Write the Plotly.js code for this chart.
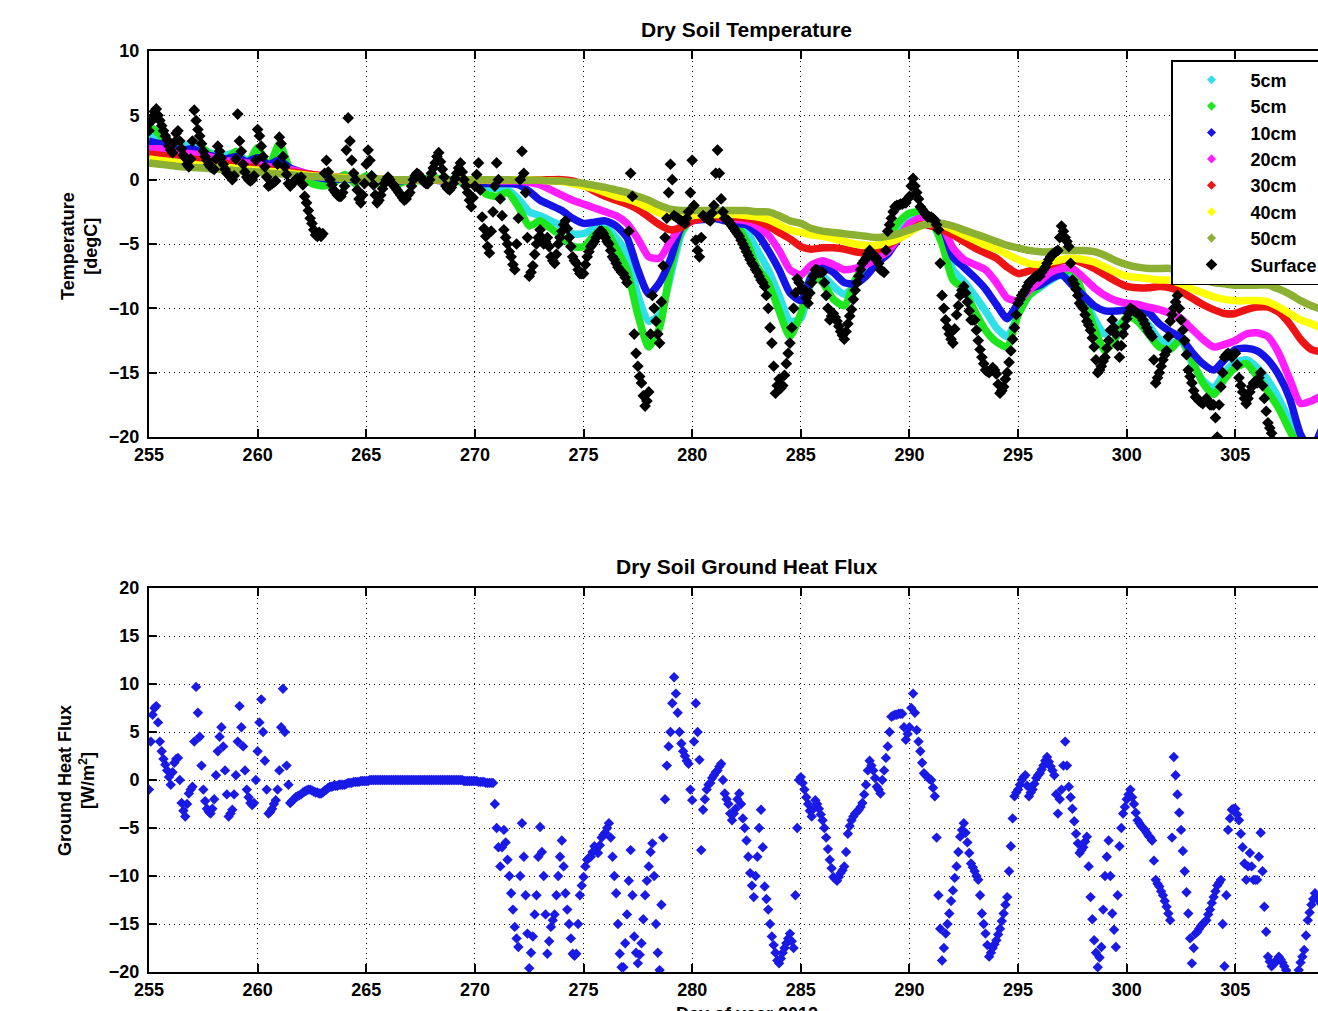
<!DOCTYPE html>
<html>
<head>
<meta charset="utf-8">
<script src="https://cdn.plot.ly/plotly-3.0.1.min.js"></script>
<style>
html,body{margin:0;padding:0;overflow:hidden;background:#fff;}
#chart{width:1400px;height:1040px;}
</style>
</head>
<body>
<div id="chart"></div>
<script>
// ---------------- DATA ----------------
const startDay = 255;
const depthStep = 0.5;        // depth series: every 12 h
const samplesPerDay = 12;     // surface temp & heat flux: every 2 h

// 5cm (sensor A, cyan)
const temp5cmA = [
 3.3, 3.2, 2.8, 2.6, 2.8, 2.3, 2.0, 1.9, 2.1, 1.5,
 1.9, 1.2, 1.8, 0.9, 0.5, 0.1, -0.2, -0.1, 0.2, -0.1,
 0.2, -0.1, 0.0, -0.1, 0.0, 0.0, 0.1, 0.0, 0.0, -0.1,
 -0.3, -0.6, -0.7, -0.8, -1.5, -2.5, -2.8, -3.2, -3.6, -4.2,
 -4.2, -3.8, -3.7, -4.5, -5.8, -9.0, -11.0, -10.5, -7.5, -4.2,
 -3.0, -2.8, -2.9, -3.0, -3.3, -4.0, -5.5, -7.0, -9.0, -11.0,
 -10.8, -8.0, -7.5, -8.3, -8.9, -8.2, -7.0, -6.0, -4.8, -3.8,
 -3.2, -2.7, -2.9, -4.0, -7.0, -7.9, -9.0, -10.2, -11.5, -12.2,
 -10.5, -9.0, -8.4, -7.8, -7.4, -7.6, -9.0, -10.8, -12.0, -11.5,
 -10.8, -10.5, -11.3, -12.4, -12.8, -12.5, -14.2, -15.6, -16.2, -15.0,
 -14.2, -14.0, -14.6, -15.6, -17.0, -18.8, -20.5, -22.0, -22.0, -21.5,
 -21.0
];
// 5cm (sensor B, green)
const temp5cmB = [
 4.2, 3.5, 2.4, 2.2, 2.0, 2.4, 1.6, 1.4, 2.2, 1.1,
 2.5, 1.0, 2.8, 0.8, 0.3, -0.3, -0.5, -0.3, 0.4, -0.3,
 0.3, -0.3, 0.0, -0.3, 0.0, -0.1, 0.2, 0.0, 0.0, -0.3,
 -0.4, -1.1, -1.3, -1.0, -2.1, -3.6, -3.2, -3.8, -4.4, -5.2,
 -5.2, -4.3, -3.9, -5.3, -7.0, -10.5, -13.0, -11.5, -7.0, -4.0,
 -3.0, -2.7, -2.7, -2.9, -3.4, -4.8, -6.8, -8.0, -10.2, -12.2,
 -10.4, -7.4, -8.0, -9.3, -9.8, -7.8, -6.4, -5.6, -4.4, -3.3,
 -2.6, -2.5, -3.2, -5.0, -7.8, -8.5, -10.2, -11.7, -12.6, -13.0,
 -10.5, -9.0, -8.3, -7.6, -7.3, -7.0, -9.0, -11.5, -13.3, -12.3,
 -10.6, -11.0, -12.0, -13.0, -13.2, -12.4, -14.0, -15.8, -16.7, -15.5,
 -14.6, -14.3, -15.3, -16.5, -17.8, -19.5, -21.0, -22.0, -22.0, -22.0,
 -22.0
];
const temp10cm = [
 3.0, 2.8, 2.5, 2.3, 2.4, 2.0, 1.8, 1.6, 1.8, 1.4,
 1.7, 1.2, 1.5, 0.9, 0.6, 0.3, 0.1, 0.0, 0.1, 0.0,
 0.1, -0.1, 0.0, -0.1, 0.0, 0.0, 0.0, -0.1, 0.0, -0.1,
 -0.2, -0.3, -0.3, -0.3, -0.4, -0.9, -1.6, -2.0, -2.4, -3.0,
 -3.4, -3.3, -3.2, -3.6, -4.5, -7.0, -8.9, -8.0, -6.2, -3.7,
 -3.2, -3.1, -3.0, -3.2, -3.4, -3.5, -4.2, -5.5, -7.0, -8.8,
 -9.4, -7.5, -6.8, -7.2, -8.0, -8.1, -7.5, -6.5, -5.8, -4.6,
 -3.9, -3.1, -3.0, -3.6, -6.0, -6.8, -7.6, -8.5, -9.7, -10.8,
 -9.6, -8.5, -8.2, -7.7, -7.4, -8.2, -9.0, -9.8, -10.2, -10.2,
 -10.1, -9.7, -10.3, -11.2, -11.8, -12.3, -13.4, -14.3, -14.8, -14.0,
 -13.2, -13.1, -13.3, -14.0, -15.2, -17.0, -19.8, -21.0, -19.3, -18.2,
 -17.8
];
const temp20cm = [
 2.4, 2.4, 2.2, 2.1, 2.0, 1.9, 1.7, 1.5, 1.4, 1.3,
 1.2, 1.0, 0.9, 0.8, 0.6, 0.4, 0.3, 0.2, 0.15, 0.1,
 0.05, 0.0, 0.0, 0.0, 0.0, 0.0, 0.0, 0.0, 0.0, 0.0,
 0.0, -0.05, -0.1, -0.1, -0.1, -0.2, -0.4, -0.8, -1.2, -1.6,
 -1.9, -2.2, -2.5, -2.8, -3.4, -4.6, -6.0, -6.1, -4.8, -3.6,
 -3.2, -3.0, -2.9, -3.0, -3.1, -3.2, -3.6, -4.3, -5.5, -7.0,
 -7.4, -6.6, -6.3, -6.6, -7.0, -6.9, -6.6, -6.1, -5.6, -4.5,
 -3.4, -3.0, -3.1, -3.6, -5.3, -6.2, -6.6, -7.0, -8.0, -9.2,
 -9.4, -8.6, -7.9, -7.2, -6.9, -6.9, -7.6, -8.4, -9.0, -9.4,
 -9.6, -9.7, -9.9, -10.1, -10.4, -10.8, -11.6, -12.4, -13.0, -12.8,
 -12.5, -12.0, -11.9, -12.2, -13.5, -15.5, -17.4, -17.2, -16.8, -17.0,
 -17.5
];
const temp30cm = [
 2.0, 1.9, 1.8, 1.7, 1.6, 1.5, 1.35, 1.25, 1.15, 1.0,
 0.9, 0.8, 0.7, 0.6, 0.5, 0.4, 0.3, 0.2, 0.15, 0.1,
 0.05, 0.05, 0.0, 0.0, 0.0, 0.0, 0.0, 0.0, 0.0, 0.0,
 0.0, 0.0, 0.0, 0.0, 0.0, 0.0, 0.0, 0.0, 0.0, -0.1,
 -0.4, -0.9, -1.3, -1.6, -1.9, -2.3, -2.9, -3.5, -3.9, -3.7,
 -3.2, -3.0, -2.9, -2.9, -2.9, -3.0, -3.2, -3.6, -4.1, -4.6,
 -5.2, -5.4, -5.3, -5.3, -5.4, -5.6, -5.7, -5.5, -5.1, -4.6,
 -4.0, -3.5, -3.6, -3.9, -4.3, -4.8, -5.3, -5.7, -6.1, -6.8,
 -7.3, -7.1, -6.8, -6.6, -6.3, -6.2, -6.5, -6.9, -7.4, -7.9,
 -8.3, -8.4, -8.4, -8.3, -8.4, -8.7, -9.2, -9.7, -10.1, -10.4,
 -10.4, -10.1, -9.9, -9.9, -10.3, -11.2, -12.4, -13.2, -13.4, -13.6,
 -13.8
];
const temp40cm = [
 1.6, 1.5, 1.4, 1.3, 1.2, 1.1, 1.0, 0.95, 0.9, 0.8,
 0.75, 0.65, 0.6, 0.5, 0.4, 0.3, 0.25, 0.2, 0.15, 0.1,
 0.05, 0.05, 0.0, 0.0, 0.0, 0.0, 0.0, 0.0, 0.0, 0.0,
 0.0, 0.0, 0.0, 0.0, 0.0, 0.0, -0.05, -0.1, -0.15, -0.3,
 -0.5, -0.7, -1.0, -1.3, -1.5, -1.8, -2.2, -2.6, -2.9, -2.9,
 -2.8, -2.7, -2.7, -2.7, -2.7, -2.8, -2.9, -3.1, -3.5, -3.9,
 -4.1, -4.3, -4.4, -4.6, -4.8, -5.0, -5.1, -5.1, -4.9, -4.6,
 -4.1, -3.6, -3.4, -3.5, -3.9, -4.3, -4.7, -5.1, -5.4, -5.8,
 -6.2, -6.5, -6.6, -6.4, -6.2, -6.1, -6.2, -6.4, -6.8, -7.2,
 -7.5, -7.6, -7.7, -7.8, -7.8, -8.1, -8.5, -8.8, -9.1, -9.3,
 -9.4, -9.4, -9.4, -9.5, -9.9, -10.4, -10.9, -11.2, -11.6, -12.0,
 -12.3
];
const temp50cm = [
 1.3, 1.2, 1.1, 1.0, 0.95, 0.9, 0.85, 0.8, 0.7, 0.65,
 0.6, 0.5, 0.45, 0.4, 0.3, 0.25, 0.2, 0.15, 0.1, 0.1,
 0.05, 0.05, 0.0, 0.0, 0.0, 0.0, 0.0, 0.0, 0.0, 0.0,
 0.0, 0.0, 0.0, 0.0, -0.05, -0.05, -0.05, -0.1, -0.1, -0.2,
 -0.3, -0.45, -0.6, -0.8, -1.0, -1.3, -1.6, -2.0, -2.3, -2.4,
 -2.4, -2.4, -2.4, -2.4, -2.4, -2.4, -2.5, -2.5, -2.8, -3.2,
 -3.4, -3.8, -4.0, -4.1, -4.2, -4.3, -4.4, -4.5, -4.4, -4.2,
 -3.9, -3.6, -3.4, -3.4, -3.6, -3.9, -4.2, -4.5, -4.8, -5.1,
 -5.3, -5.5, -5.6, -5.6, -5.5, -5.5, -5.5, -5.6, -5.9, -6.3,
 -6.6, -6.8, -6.9, -6.9, -6.9, -7.1, -7.4, -7.8, -8.0, -8.1,
 -8.2, -8.2, -8.2, -8.2, -8.5, -8.9, -9.4, -9.8, -10.1, -10.4,
 -10.7
];
// Surface temperature, 12 samples per day (one row per day, 255 ... 309, then 310)
const surfaceTemp = [
 3.8, 4.5, 4.9, 5.3, 5.5, 5.0, 4.6, 4.2, 3.8, 3.4, 3.1, 2.6,
 2.3, 2.1, 2.9, 3.6, 3.8, 3.0, 2.4, 1.9, 1.7, 1.2, 1.0, 1.6,
 3.0, 5.4, 4.6, 3.9, 3.4, 2.8, 2.2, 1.8, 1.5, 1.2, 1.0, 0.9,
 0.8, 1.6, 2.6, 2.2, 1.7, 1.2, 0.8, 0.5, 0.4, 0.2, 0.0, 0.3,
 1.6, 5.1, 3.0, 2.2, 1.2, 0.6, 0.2, 0.0, -0.1, 0.0, 0.3, 1.5,
 3.9, 3.4, 2.6, 1.8, 1.0, 0.2, -0.5, -0.4, -0.3, -0.2, -0.1, 1.2,
 3.3, 2.8, 1.8, 1.0, 0.4, -0.3, -0.5, -0.3, -0.2, 0.0, 0.1, 0.0,
 0.2, -0.4, -1.3, -1.8, -2.4, -3.0, -3.4, -3.9, -4.3, -4.4, -4.1, -4.4,
 -4.2, 0.5, 1.5, 0.6, 0.0, -0.4, -0.8, -1.0, -1.2, -1.3, -1.3, -1.0,
 -0.5, 2.3, 4.8, 3.0, 1.5, 0.5, 0.0, -0.8, -1.5, -1.8, -1.2, -0.3,
 1.2, 2.3, 1.5, 0.3, -0.4, -1.2, -1.8, -1.6, -1.2, -0.7, -0.3, 0.0,
 0.2, 0.0, -0.3, -0.4, -0.6, -0.8, -1.0, -1.2, -1.4, -1.6, -1.5, -1.2,
 -1.0, -0.5, 0.0, 0.3, 0.5, 0.4, 0.2, 0.0, -0.2, -0.3, -0.3, 0.0,
 0.5, 0.9, 1.3, 1.8, 2.1, 1.4, 0.8, 0.2, -0.5, -0.7, -0.8, -0.6,
 -0.3, 0.1, 0.5, 0.9, 1.3, 0.6, 0.0, -0.5, -1.0, -1.6, -2.1, -1.4,
 -0.5, 0.4, 1.3, -0.8, -2.9, -3.8, -4.4, -5.2, -5.7, -4.0, -2.5, -0.5,
 1.3, 0.0, -1.5, -2.8, -3.9, -4.5, -5.0, -5.6, -6.0, -6.6, -7.0, -5.0,
 -3.0, 0.0, 2.2, 0.5, -1.0, -4.5, -7.5, -7.2, -6.7, -5.8, -5.0, -4.5,
 -3.9, -4.5, -5.0, -4.8, -4.5, -5.2, -6.0, -6.3, -6.5, -5.8, -5.0, -4.5,
 -4.0, -3.5, -3.2, -3.8, -4.5, -5.2, -6.0, -6.3, -6.5, -7.0, -7.3, -7.3,
 -7.3, -6.6, -6.0, -5.6, -5.2, -5.0, -4.8, -4.5, -4.2, -4.0, -4.0, -4.2,
 -4.5, -4.8, -5.0, -5.5, -6.0, -6.2, -6.5, -6.8, -7.0, -7.2, -7.3, -7.6,
 -8.0, -4.0, 0.5, -1.3, -12.0, -13.5, -14.5, -15.3, -15.8, -16.8, -17.6, -17.2,
 -16.5, -12.0, -9.0, -10.0, -11.0, -12.0, -12.7, -9.5, -6.7, -4.5, -3.0, -1.0,
 1.2, 0.0, -2.8, -2.9, -3.0, -3.1, -3.2, -3.3, -3.4, -3.0, -2.5, -1.0,
 1.5, -2.0, -4.7, -5.5, -6.0, -4.5, -2.8, -2.9, -3.0, -3.1, -3.2, -2.6,
 -2.0, 0.5, 2.3, 0.5, -1.5, -2.5, -3.0, -3.1, -3.2, -3.4, -3.6, -3.8,
 -4.0, -4.2, -4.4, -4.7, -5.0, -5.3, -5.6, -5.9, -6.2, -6.5, -6.7, -7.0,
 -7.2, -7.5, -7.8, -8.0, -8.3, -9.0, -10.0, -11.5, -12.7, -14.5, -16.6, -16.0,
 -15.5, -16.2, -16.0, -15.2, -14.3, -13.5, -12.7, -11.5, -10.0, -8.8, -7.7, -8.0,
 -8.5, -8.5, -8.6, -9.2, -9.6, -8.8, -8.0, -7.5, -7.0, -7.0, -7.2, -7.2,
 -7.2, -8.0, -9.0, -10.0, -10.9, -10.6, -10.4, -10.7, -11.0, -11.4, -11.8, -12.1,
 -12.4, -11.8, -11.2, -10.6, -10.1, -9.3, -8.6, -8.0, -7.5, -7.0, -6.5, -6.3,
 -6.1, -5.8, -5.5, -5.7, -6.0, -6.1, -6.1, -6.5, -7.0, -7.1, -7.2, -5.5,
 -4.0, -3.5, -3.0, -2.5, -2.1, -2.0, -2.0, -1.9, -1.9, -1.8, -1.8, -1.5,
 -1.3, -0.5, 0.1, -0.5, -1.0, -1.5, -2.1, -2.3, -2.5, -2.7, -2.9, -2.9,
 -2.9, -3.0, -3.2, -3.5, -3.9, -6.5, -9.0, -10.0, -10.9, -11.5, -12.0, -12.4,
 -12.7, -11.6, -10.5, -9.8, -9.0, -8.6, -8.3, -8.8, -9.5, -10.2, -10.9, -10.9,
 -10.9, -11.7, -12.5, -13.2, -13.8, -14.3, -14.8, -14.9, -15.0, -14.8, -14.6, -14.8,
 -15.1, -15.9, -16.6, -16.4, -16.1, -15.5, -15.0, -14.2, -13.3, -12.4, -11.5, -10.5,
 -9.6, -9.3, -9.0, -8.8, -8.6, -8.3, -8.0, -7.9, -7.8, -7.6, -7.5, -7.5,
 -7.5, -7.2, -7.0, -6.8, -6.5, -6.2, -6.0, -5.8, -5.7, -5.6, -5.5, -4.5,
 -3.6, -4.0, -4.5, -4.8, -5.2, -6.5, -7.8, -8.1, -8.5, -9.0, -9.6, -9.8,
 -10.0, -10.5, -11.0, -11.3, -11.7, -12.3, -13.0, -14.0, -15.0, -14.8, -14.5, -14.1,
 -13.8, -13.1, -12.5, -11.7, -10.9, -11.5, -12.0, -12.9, -13.8, -12.9, -12.0, -11.4,
 -10.8, -10.4, -10.0, -10.1, -10.2, -10.3, -10.4, -10.5, -10.6, -10.9, -11.2, -11.5,
 -11.8, -12.0, -12.2, -14.0, -15.8, -15.4, -15.0, -14.5, -14.0, -13.6, -13.3, -12.2,
 -11.0, -10.5, -10.0, -9.5, -9.0, -10.0, -10.9, -11.7, -12.5, -13.6, -14.8, -15.3,
 -15.8, -16.4, -16.9, -17.0, -17.2, -17.3, -17.4, -17.2, -17.0, -17.2, -17.5, -17.5,
 -17.5, -18.5, -20.0, -17.5, -16.1, -15.0, -13.8, -13.6, -13.5, -13.6, -13.8, -13.6,
 -13.5, -14.4, -15.4, -16.0, -16.5, -17.0, -17.4, -17.0, -16.5, -16.1, -15.8, -15.8,
 -15.8, -15.4, -15.0, -16.0, -17.0, -18.0, -18.9, -19.3, -19.7, -20.3, -21.0, -21.2,
 -21.5, -21.8, -22.0, -22.2, -22.5, -22.3, -22.0, -22.2, -22.5, -22.8, -23.0, -23.0,
 -23.0, -23.2, -23.5, -23.2, -23.0, -22.8, -22.5, -22.8, -23.0, -23.2, -23.5, -23.5,
 -23.5, -23.8, -24.0, -23.8, -23.5, -23.2, -23.0, -23.2, -23.5, -23.8, -24.0, -24.0,
 -24.0
];
// Ground heat flux [W/m2], 12 samples per day (one row per day, 255 ... 309, then 310)
const heatFlux = [
 -1.0, 4.0, 6.8, 7.5, 7.7, 6.0, 4.0, 3.0, 2.2, 1.6, 1.0, 0.3,
 -0.5, 0.8, 1.8, 2.2, 2.3, 0.0, -2.4, -3.2, -3.8, -2.5, -1.4, -1.0,
 -0.7, 4.0, 9.7, 7.0, 4.5, 1.5, -1.0, -2.2, -3.0, -3.3, -3.5, -3.0,
 -2.0, 0.5, 3.0, 4.5, 5.5, 3.5, 1.0, -1.5, -3.8, -3.5, -3.1, -1.5,
 0.5, 4.0, 7.7, 5.5, 3.5, 1.0, -1.0, -1.8, -2.4, -2.6, -2.4, 0.0,
 3.0, 6.0, 8.4, 5.0, 2.0, -1.0, -3.5, -3.3, -3.0, -2.5, -2.1, -1.0,
 1.0, 5.5, 9.5, 5.0, 1.5, -0.5, -2.4, -2.2, -2.0, -1.8, -1.7, -1.6,
 -1.5, -1.3, -1.2, -1.1, -1.0, -1.0, -1.1, -1.2, -1.3, -1.3, -1.4, -1.4,
 -1.3, -1.1, -1.0, -0.8, -0.7, -0.7, -0.6, -0.6, -0.6, -0.5, -0.5, -0.5,
 -0.5, -0.4, -0.3, -0.3, -0.3, -0.2, -0.2, -0.2, -0.2, -0.1, -0.1, -0.1,
 -0.1, -0.1, 0.0, 0.0, 0.0, 0.0, 0.0, 0.0, 0.0, 0.0, 0.0, 0.0,
 0.0, 0.0, 0.0, 0.0, 0.0, 0.0, 0.0, 0.0, 0.0, 0.0, 0.0, 0.0,
 0.0, 0.0, 0.0, 0.0, 0.0, 0.0, 0.0, 0.0, 0.0, 0.0, 0.0, 0.0,
 0.0, 0.0, 0.0, 0.0, 0.0, 0.0, 0.0, 0.0, 0.0, 0.0, 0.0, 0.0,
 0.0, 0.0, 0.0, 0.0, 0.0, 0.0, -0.1, -0.1, -0.1, -0.1, -0.1, -0.1,
 -0.1, -0.1, -0.2, -0.2, -0.2, -0.2, -0.3, -0.3, -0.3, -0.3, -0.3, -2.5,
 -5.0, -7.0, -9.0, -7.0, -5.2, -6.5, -8.3, -10.0, -11.8, -13.5, -15.3, -16.5,
 -17.4, -10.0, -4.5, -8.0, -12.0, -16.0, -19.6, -18.0, -16.3, -14.0, -12.0, -8.0,
 -4.9, -7.5, -10.0, -14.0, -18.1, -16.8, -15.3, -14.6, -14.0, -12.0, -10.0, -8.0,
 -6.3, -9.0, -11.8, -13.5, -15.0, -16.5, -18.1, -18.3, -18.1, -15.0, -12.0, -11.0,
 -10.1, -9.0, -8.3, -8.1, -8.0, -7.5, -6.9, -7.2, -7.6, -6.8, -6.0, -5.7,
 -5.5, -5.0, -4.5, -6.0, -8.0, -10.0, -11.8, -15.0, -18.1, -19.5, -19.5, -17.0,
 -14.0, -10.5, -7.3, -12.0, -16.3, -18.0, -19.1, -18.2, -17.0, -14.5, -12.0, -10.5,
 -9.0, -7.5, -6.6, -10.0, -15.0, -18.0, -19.8, -13.0, -6.0, -2.0, 1.5, 3.5,
 5.0, 8.0, 10.7, 9.0, 7.0, 5.0, 3.8, 3.0, 2.5, 2.0, 1.7, -1.0,
 -2.1, 4.0, 8.0, 5.0, 2.1, -7.3, -3.1, -2.0, -1.0, -0.5, -0.3, 0.2,
 0.5, 0.8, 1.0, 1.4, 1.7, 0.0, -1.4, -2.0, -2.5, -3.5, -4.2, -3.5,
 -3.0, -2.0, -1.4, -2.5, -4.0, -5.0, -6.3, -8.0, -9.7, -11.0, -12.2, -10.0,
 -8.0, -5.0, -3.1, -7.0, -11.1, -12.4, -13.5, -15.0, -16.3, -17.2, -18.0, -18.8,
 -19.1, -18.6, -18.0, -17.5, -17.0, -16.5, -16.0, -16.8, -17.5, -12.0, -5.0, 0.0,
 0.3, -0.3, -1.0, -1.8, -2.5, -3.2, -3.8, -3.0, -2.1, -2.5, -3.0, -3.6,
 -4.2, -5.0, -6.0, -7.2, -8.3, -9.2, -10.1, -10.3, -10.5, -10.1, -9.7, -9.4,
 -9.0, -7.5, -5.6, -4.8, -4.2, -3.8, -3.5, -3.3, -3.1, -2.8, -2.4, -1.5,
 -0.5, 1.0, 2.0, 1.5, 1.0, 0.2, -0.7, -1.0, -1.4, 0.0, 1.0, 2.3,
 3.5, 5.0, 6.6, 6.7, 6.8, 6.8, 6.9, 6.9, 6.9, 5.5, 4.2, 4.8,
 5.5, 7.5, 9.0, 7.0, 5.2, 4.0, 3.0, 1.8, 0.7, 0.5, 0.3, 0.1,
 0.0, -0.8, -1.7, -6.0, -12.0, -15.5, -18.8, -17.5, -16.0, -15.0, -13.9, -12.6,
 -11.5, -10.2, -9.0, -7.5, -5.9, -5.2, -4.5, -5.5, -6.5, -7.6, -8.7, -9.1,
 -9.5, -10.0, -10.4, -12.0, -13.9, -15.0, -16.0, -17.2, -18.4, -18.0, -17.5, -17.1,
 -16.7, -16.1, -15.5, -14.7, -13.9, -13.0, -12.2, -9.5, -6.9, -4.0, -1.7, -1.3,
 -1.0, -0.5, 0.0, 0.3, 0.5, -0.6, -1.7, -1.3, -1.0, -0.4, 0.2, 0.5,
 0.7, 1.1, 1.5, 2.0, 2.4, 1.9, 1.4, 1.0, 0.5, -1.5, -3.5, -2.0,
 -1.0, 1.5, 4.0, 1.5, -0.7, -1.8, -3.0, -4.3, -5.6, -6.6, -7.6, -7.3,
 -7.0, -6.4, -5.9, -9.0, -12.2, -14.5, -16.7, -18.0, -19.5, -18.5, -17.4, -13.5,
 -10.0, -8.0, -6.3, -10.0, -13.9, -15.6, -17.4, -12.0, -6.9, -5.0, -3.5, -2.8,
 -2.0, -1.5, -1.0, -1.8, -2.5, -3.4, -4.2, -4.5, -4.8, -5.0, -5.2, -5.5,
 -5.8, -6.0, -6.3, -8.4, -10.4, -10.8, -11.1, -11.6, -12.0, -12.6, -13.2, -13.9,
 -14.6, -6.0, 2.4, 0.5, -1.5, -3.4, -5.2, -7.4, -9.5, -11.7, -13.9, -16.5,
 -19.1, -17.5, -16.0, -15.8, -15.5, -15.2, -15.0, -14.8, -14.6, -14.0, -13.5, -12.8,
 -12.2, -11.6, -11.0, -10.7, -10.4, -15.0, -19.4, -12.0, -5.2, -4.0, -3.1, -3.0,
 -3.0, -3.6, -4.2, -5.6, -7.0, -8.7, -10.4, -9.0, -7.6, -9.0, -10.4, -10.4,
 -10.4, -8.0, -5.5, -9.5, -13.2, -15.8, -18.4, -18.9, -19.4, -19.2, -19.0, -18.7,
 -18.4, -18.7, -19.0, -19.4, -19.8, -20.2, -20.5, -20.8, -21.0, -20.8, -20.5, -19.8,
 -19.0, -18.4, -17.7, -16.2, -14.6, -13.8, -13.0, -12.4, -11.8, -12.2, -12.5, -12.8,
 -13.0, -13.5, -14.0, -13.8, -13.5, -13.2, -13.0, -13.2, -13.5, -13.8, -14.0, -14.0,
 -14.0
];

const depthNames = ['5cm', '5cm', '10cm', '20cm', '30cm', '40cm', '50cm'];
const depthValues = [temp5cmA, temp5cmB, temp10cm, temp20cm, temp30cm, temp40cm, temp50cm];
const depthColors = ['#30e0e8', '#1ee61e', '#1414e6', '#ff1eff', '#ee1414', '#ffff00', '#8cb032'];
const xTickVals = [255, 260, 265, 270, 275, 280, 285, 290, 295, 300, 305];

// ---------------- BUILD ----------------
const depthDay = temp50cm.map((_, i) => startDay + i * depthStep);
const sampleDay = surfaceTemp.map((_, i) => startDay + i / samplesPerDay);

const traces = [];
depthValues.forEach((vals, k) => {
  traces.push({
    x: depthDay, y: vals, xaxis: 'x', yaxis: 'y', type: 'scatter', mode: 'lines',
    line: {color: depthColors[k], width: 7.5, shape: 'spline', smoothing: 0.6},
    showlegend: false, hoverinfo: 'skip'
  });
});
depthValues.forEach((vals, k) => {
  traces.push({
    x: [null], y: [null], xaxis: 'x', yaxis: 'y', type: 'scatter', mode: 'markers',
    name: depthNames[k], marker: {symbol: 'diamond', size: 7, color: depthColors[k]}
  });
});
traces.push({
  x: sampleDay, y: surfaceTemp, xaxis: 'x', yaxis: 'y', type: 'scatter', mode: 'markers',
  name: 'Surface', marker: {symbol: 'diamond', size: 9, color: '#000000'}
});
traces.push({
  x: sampleDay, y: heatFlux, xaxis: 'x2', yaxis: 'y2', type: 'scatter', mode: 'markers',
  name: 'Ground Heat Flux', showlegend: false,
  marker: {symbol: 'diamond', size: 8, color: '#1a1ae6'}
});

const axisCommon = {
  showline: true, linecolor: '#000', linewidth: 2, mirror: 'ticks',
  ticks: 'inside', ticklen: 8, tickwidth: 2, tickcolor: '#000',
  showgrid: true, gridcolor: '#000', gridwidth: 1, griddash: '1px,4px',
  zeroline: false, tickfont: {size: 18, weight: 'bold', color: '#000'}
};

const W = 1400, H = 1040, ML = 149, MR = 56, MT = 51, MB = 68;
const plotW = W - ML - MR, plotH = H - MT - MB;
const px2x = px => (px - ML) / plotW;
const px2y = py => (H - MB - py) / plotH;

const layout = {
  width: W, height: H,
  margin: {l: ML, r: MR, t: MT, b: MB, pad: 0},
  paper_bgcolor: '#ffffff', plot_bgcolor: '#ffffff',
  font: {family: 'Liberation Sans, Arial, sans-serif', size: 18, color: '#000', weight: 'bold'},
  showlegend: true,
  legend: {
    x: px2x(1171), y: px2y(60), xanchor: 'left', yanchor: 'top',
    bgcolor: '#ffffff', bordercolor: '#000', borderwidth: 1.5,
    font: {size: 18, weight: 'bold', color: '#000'}, itemwidth: 68
  },
  xaxis: Object.assign({}, axisCommon, {range: [255, 310], tickvals: xTickVals, domain: [0, 1], anchor: 'y'}),
  yaxis: Object.assign({}, axisCommon, {range: [-20, 10], dtick: 5, tick0: 0, domain: [px2y(437), 1], anchor: 'x', ticklabelstandoff: 4}),
  xaxis2: Object.assign({}, axisCommon, {range: [255, 310], tickvals: xTickVals, domain: [0, 1], anchor: 'y2'}),
  yaxis2: Object.assign({}, axisCommon, {range: [-20, 20], dtick: 5, tick0: 0, domain: [0, px2y(588)], anchor: 'x2', ticklabelstandoff: 4}),
  annotations: [
    {text: 'Dry Soil Temperature', xref: 'paper', yref: 'paper', x: 0.5, y: px2y(30), xanchor: 'center', yanchor: 'middle', showarrow: false, font: {size: 21, weight: 'bold'}},
    {text: 'Dry Soil Ground Heat Flux', xref: 'paper', yref: 'paper', x: 0.5, y: px2y(566), xanchor: 'center', yanchor: 'middle', showarrow: false, font: {size: 21, weight: 'bold'}},
    {text: 'Temperature<br>[degC]', xref: 'paper', yref: 'paper', x: px2x(80), y: px2y(246), xanchor: 'center', yanchor: 'middle', textangle: -90, showarrow: false, font: {size: 18, weight: 'bold'}},
    {text: 'Ground Heat Flux<br>[W/m<sup>2</sup>]', xref: 'paper', yref: 'paper', x: px2x(76), y: px2y(781), xanchor: 'center', yanchor: 'middle', textangle: -90, showarrow: false, font: {size: 18, weight: 'bold'}},
    {text: 'Day of year 2012', xref: 'paper', yref: 'paper', x: 0.5, y: px2y(1014), xanchor: 'center', yanchor: 'middle', showarrow: false, font: {size: 18, weight: 'bold'}}
  ]
};

Plotly.newPlot('chart', traces, layout, {displayModeBar: false, staticPlot: true});
</script>
</body>
</html>
